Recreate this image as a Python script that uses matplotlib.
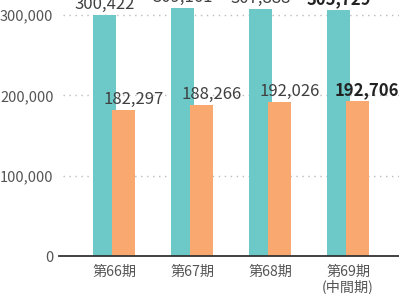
import matplotlib
matplotlib.use("Agg")
import matplotlib.pyplot as plt

plt.rcParams['font.family'] = ['Noto Sans CJK JP', 'DejaVu Sans']

categories = ["第66期", "第67期", "第68期", "第69期\n(中間期)"]
series_a = [300422, 309161, 307888, 305729]
series_b = [182297, 188266, 192026, 192706]
labels_a = ["300,422", "309,161", "307,888", "305,729"]
labels_b = ["182,297", "188,266", "192,026", "192,706"]
yticks = [0, 100000, 200000, 300000]
ytick_labels = ["0", "100,000", "200,000", "300,000"]

teal = "#6CC9C8"
orange = "#F9A870"

fig = plt.figure(figsize=(3.99, 2.94), dpi=100)
ax = fig.add_axes([59/399, 38/294, 340/399, 256/294])

x = list(range(len(categories)))
w = 0.295
off = 0.122

ax.set_xlim(-0.705, 3.654)
ax.set_ylim(0, 318680)

for yv in yticks[1:]:
    ax.axhline(yv, xmin=4/340, xmax=1, color="#BBBBBB", lw=1.0,
               linestyle=(0, (1, 3.3)), zorder=0)

ax.bar([i - off for i in x], series_a, width=w, color=teal, zorder=2)
ax.bar([i + off for i in x], series_b, width=w, color=orange, zorder=3)

n = len(categories)
for i in x:
    bold = (i == n - 1)
    col = "#222222" if bold else "#404040"
    fw = "bold" if bold else "normal"
    ax.annotate(labels_a[i], (i - off, series_a[i]), xytext=(0, 1.5),
                textcoords="offset points", ha="center", va="bottom",
                fontsize=12, color=col, fontweight=fw, zorder=5,
                annotation_clip=False)
    ax.annotate(labels_b[i], (i + off + 0.125, series_b[i]), xytext=(0, 1.5),
                textcoords="offset points", ha="center", va="bottom",
                fontsize=12, color=col, fontweight=fw, zorder=5)

for s in ["top", "right", "left"]:
    ax.spines[s].set_visible(False)
ax.spines["bottom"].set_color("#333333")
ax.spines["bottom"].set_linewidth(1.3)
ax.spines["bottom"].set_zorder(4)

ax.set_yticks(yticks)
ax.set_yticklabels(ytick_labels)
ax.set_xticks(x)
ax.set_xticklabels(categories, linespacing=1.0)
ax.tick_params(axis="y", length=0, pad=4, labelsize=10.5, labelcolor="#555555")
ax.tick_params(axis="x", length=0, pad=6.5, labelsize=10.2, labelcolor="#555555")

fig.savefig("out.png", dpi=100)
